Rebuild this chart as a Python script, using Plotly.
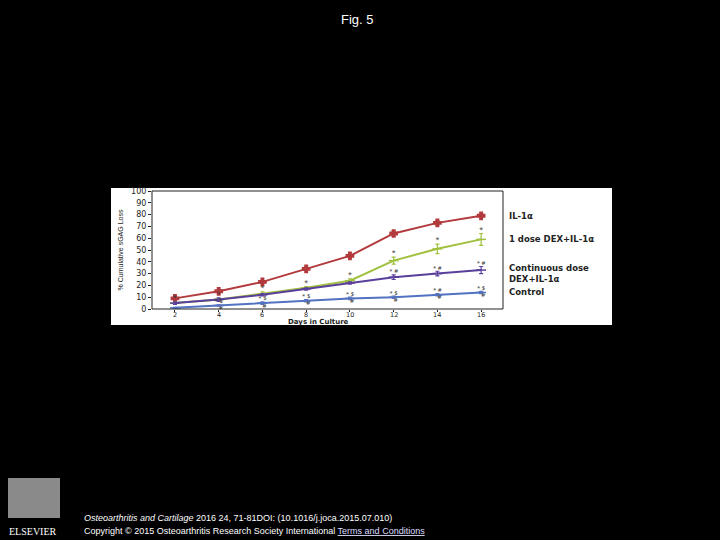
import plotly.graph_objects as go

days = [2, 4, 6, 8, 10, 12, 14, 16]
il1a = [9, 15, 23, 34, 45, 64, 73, 79]
il1a_err = [1, 1, 1, 1.5, 1.5, 2.5, 2, 1.5]
one_dose = [5, 8, 13, 18, 24, 41, 51, 59]
one_dose_err = [1, 1, 1.5, 1, 1.5, 3, 4, 5]
continuous = [5, 8, 12, 17, 22, 27, 30, 33]
continuous_err = [1, 1.5, 1, 1, 1, 2, 2, 3]
control = [1, 3, 5, 7, 9, 10, 12, 14]
control_err = [0.5, 0.5, 1, 1, 1, 1, 1, 1]

series_names = ["IL-1α", "1 dose DEX+IL-1α", "Continuous dose<br>DEX+IL-1α", "Control"]
series_values = [il1a, one_dose, continuous, control]
series_errs = [il1a_err, one_dose_err, continuous_err, control_err]
series_colors = ["#b23a3c", "#9fc13e", "#5a3f9c", "#5272c2"]
series_symbols = ["cross", "line-ew", "line-ew", "line-ew"]

# significance marks above / below points (text labels)
sig_one = ["*", "", "*", "*", "*", "*", "*", "*"]
sig_cont = ["", "*", "", "", "", "* #", "* #", "* #"]
sig_ctrl = ["", "* $", "* $", "* $", "* $", "* $", "* #", "* $"]
sig_ctrl_below = ["", "#", "#", "#", "#", "#", "#", "#"]

y_ticks = list(range(0, 101, 10))

# plot-area pixel frame (used only to convert page positions into paper units)
PL, PR, PT, PB = 152, 503, 191, 309
PW, PH = PR - PL, PB - PT


def px(x):
    return (x - PL) / PW


def py(y):
    return (PB - y) / PH


fig = go.Figure()

for name, vals, errs, col, sym in zip(series_names, series_values, series_errs, series_colors, series_symbols):
    fig.add_trace(go.Scatter(
        x=days, y=vals, name=name, mode="lines+markers",
        line=dict(color=col, width=2),
        marker=dict(symbol=sym, size=6 if sym == "cross" else 7, color=col,
                    line=dict(color=col, width=1.5)),
        error_y=dict(type="data", array=errs, color=col, thickness=1.2, width=2),
        showlegend=False,
    ))

fig.add_trace(go.Scatter(x=days, y=[v + e for v, e in zip(one_dose, one_dose_err)],
                         mode="text", text=sig_one, textposition="top center",
                         textfont=dict(size=7, color="#333"),
                         showlegend=False, hoverinfo="skip"))
fig.add_trace(go.Scatter(x=days, y=[v + e for v, e in zip(continuous, continuous_err)],
                         mode="text", text=sig_cont, textposition="top center",
                         textfont=dict(size=6, color="#333"),
                         showlegend=False, hoverinfo="skip"))
fig.add_trace(go.Scatter(x=days, y=[v + e for v, e in zip(control, control_err)],
                         mode="text", text=sig_ctrl, textposition="top center",
                         textfont=dict(size=6, color="#333"),
                         showlegend=False, hoverinfo="skip"))
fig.add_trace(go.Scatter(x=days, y=control,
                         mode="text", text=sig_ctrl_below, textposition="bottom right",
                         textfont=dict(size=6, color="#333"),
                         showlegend=False, hoverinfo="skip"))

annotations = []
for name, vals, col in zip(series_names, series_values, series_colors):
    annotations.append(dict(
        x=px(507), y=vals[-1] - (3 if name.startswith("Continuous") else 0),
        xref="paper", yref="y", xanchor="left", yanchor="middle",
        text="<b>" + name + "</b>", showarrow=False, align="left",
        font=dict(family="DejaVu Sans", size=8.5, color="#222"),
    ))

# x tick labels placed along the x axis
for d in days:
    annotations.append(dict(x=d, y=0, xref="x", yref="paper", yanchor="top", xanchor="center",
                            yshift=0, text=str(d), showarrow=False,
                            font=dict(family="DejaVu Sans", size=6.5, color="#222")))

annotations += [
    dict(x=px(318), y=py(322), xref="paper", yref="paper", xanchor="center", yanchor="middle",
         text="<b>Days in Culture</b>", showarrow=False,
         font=dict(family="DejaVu Sans", size=7, color="#222")),
    dict(x=px(357), y=py(19), xref="paper", yref="paper", xanchor="center", yanchor="middle",
         text="Fig. 5", showarrow=False, font=dict(family="Arial", size=13, color="white")),
    dict(x=px(82), y=py(518), xref="paper", yref="paper",
         xanchor="left", yanchor="middle", showarrow=False,
         text="<i>Osteoarthritis and Cartilage</i> 2016 24, 71-81DOI: (10.1016/j.joca.2015.07.010)",
         font=dict(family="Arial", size=9, color="white")),
    dict(x=px(82), y=py(531), xref="paper", yref="paper",
         xanchor="left", yanchor="middle", showarrow=False,
         text="Copyright © 2015 Osteoarthritis Research Society International <span style='color:#ddddff'><u>Terms and Conditions</u></span>",
         font=dict(family="Arial", size=9, color="white")),
    dict(x=px(33), y=py(531), xref="paper", yref="paper",
         xanchor="center", yanchor="middle", showarrow=False,
         text="ELSEVIER", font=dict(family="Liberation Serif", size=10, color="white")),
]

shapes = [
    dict(type="rect", xref="paper", yref="paper",
         x0=px(111), x1=px(612), y0=py(325), y1=py(188),
         fillcolor="white", line=dict(width=0), layer="below"),
    dict(type="rect", xref="paper", yref="paper", x0=0, x1=1, y0=0, y1=1,
         line=dict(color="#222", width=1), fillcolor="rgba(0,0,0,0)"),
    dict(type="rect", xref="paper", yref="paper",
         x0=px(8), x1=px(60), y0=py(518), y1=py(478),
         fillcolor="#8a8a8a", line=dict(width=0), layer="below"),
]

fig.update_layout(
    width=720, height=540,
    margin=dict(l=PL, r=720 - PR, t=PT, b=540 - PB),
    paper_bgcolor="black", plot_bgcolor="rgba(0,0,0,0)",
    showlegend=False,
    shapes=shapes, annotations=annotations,
    xaxis=dict(range=[0.95, 17.0], tickvals=days, showticklabels=False,
               ticks="outside", ticklen=2, tickcolor="#222",
               showgrid=False, zeroline=False, showline=False),
    yaxis=dict(range=[0, 100], tickvals=y_ticks, ticktext=[str(t) for t in y_ticks],
               ticks="outside", ticklen=3, tickcolor="#222",
               showgrid=False, zeroline=False, showline=False,
               tickfont=dict(family="DejaVu Sans", size=8, color="#222"),
               title=dict(text="% Cumulative sGAG Loss", standoff=6,
                          font=dict(family="Arial", size=7, color="#222"))),
)

fig.write_html("out.html", config={"displayModeBar": False},
               post_script="document.body.style.margin='0';document.body.style.background='black';")
